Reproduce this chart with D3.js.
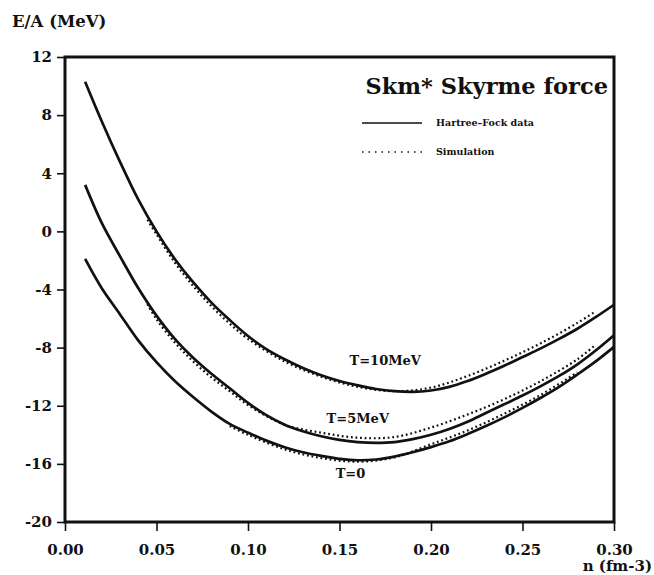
<!DOCTYPE html>
<html>
<head>
<meta charset="utf-8">
<script src="https://cdn.jsdelivr.net/npm/d3@7"></script>
<style>
  body { margin: 0; background: #fff; }
  svg text { font-family: "DejaVu Serif", serif; font-weight: bold; fill: #111; }
</style>
</head>
<body>
<div id="chart"></div>
<script>
// density grid (fm-3) of the Hartree-Fock curves
const densities = [0.011, 0.02, 0.03, 0.04, 0.05, 0.06, 0.07, 0.08, 0.09, 0.10,
  0.11, 0.12, 0.13, 0.14, 0.15, 0.16, 0.17, 0.18, 0.19, 0.20,
  0.21, 0.22, 0.23, 0.24, 0.25, 0.26, 0.27, 0.28, 0.29, 0.30]

// E/A (MeV), Hartree-Fock data
const hfT10 = [10.3, 7.6, 4.8, 2.2, 0.0, -1.9, -3.5, -4.9, -6.1, -7.2,
  -8.1, -8.8, -9.4, -9.9, -10.3, -10.6, -10.85, -11.0, -11.05, -10.95,
  -10.7, -10.3, -9.8, -9.25, -8.65, -8.05, -7.4, -6.7, -5.9, -5.05]
const hfT5 = [3.2, 0.6, -1.7, -3.9, -5.8, -7.4, -8.7, -9.8, -10.8, -11.8,
  -12.65, -13.3, -13.75, -14.1, -14.35, -14.5, -14.55, -14.5, -14.3, -14.0,
  -13.6, -13.1, -12.5, -11.9, -11.3, -10.65, -9.95, -9.15, -8.2, -7.15]
const hfT0 = [-1.9, -3.9, -5.7, -7.5, -9.0, -10.3, -11.4, -12.4, -13.25, -13.85,
  -14.4, -14.85, -15.2, -15.45, -15.65, -15.75, -15.7, -15.5, -15.2, -14.85,
  -14.45, -13.95, -13.4, -12.8, -12.15, -11.45, -10.7, -9.85, -8.95, -7.95]

// simulation points
const simDensities = [0.045, 0.05, 0.06, 0.07, 0.08, 0.09, 0.10, 0.12, 0.14,
  0.16, 0.18, 0.20, 0.22, 0.24, 0.26, 0.28, 0.29]
const simT10 = [0.8, -0.2, -2.15, -3.75, -5.15, -6.35, -7.4, -8.95, -10.0,
  -10.7, -11.0, -10.75, -9.95, -8.9, -7.7, -6.3, -5.5]
const simT5 = [-5.0, -6.05, -7.65, -8.95, -10.05, -11.0, -11.95, -13.3, -13.85,
  -14.2, -14.15, -13.5, -12.6, -11.55, -10.3, -8.8, -7.8]
const simDensitiesT0 = [0.09, 0.10, 0.12, 0.14, 0.16, 0.18, 0.20, 0.22, 0.24, 0.26, 0.28]
const simT0 = [-13.4, -14.0, -15.0, -15.6, -15.85, -15.55, -14.65, -13.7, -12.55, -11.25, -9.7]

const curveLabels = ['T=10MeV', 'T=5MeV', 'T=0']
const xTicks = [0, 0.05, 0.10, 0.15, 0.20, 0.25, 0.30]
const xTickLabels = ['0.00', '0.05', '0.10', '0.15', '0.20', '0.25', '0.30']
const yTicks = [12, 8, 4, 0, -4, -8, -12, -16, -20]

const totalWidth = 654
const totalHeight = 575
const marginLeft = 65
const marginTop = 57
const width = 549
const height = 465
const ink = '#111'

const svg = d3.select('#chart')
  .append('svg')
    .attr('width', totalWidth)
    .attr('height', totalHeight)

const chart = svg.append('g')
  .attr('transform', 'translate(' + marginLeft + ',' + marginTop + ')')

const x = d3.scaleLinear().domain([0, 0.30]).range([0, width])
const y = d3.scaleLinear().domain([-20, 12]).range([height, 0])

// axes
const xAxis = chart.append('g')
  .attr('transform', `translate(0,${height})`)
  .call(d3.axisBottom(x)
    .tickValues(xTicks)
    .tickSize(9)
    .tickPadding(13)
    .tickFormat((d, i) => xTickLabels[i]))

const yAxis = chart.append('g')
  .call(d3.axisLeft(y)
    .tickValues(yTicks)
    .tickSize(8)
    .tickPadding(5)
    .tickFormat(d => String(d)))

for (const axis of [xAxis, yAxis]) {
  axis.select('.domain').remove()
  axis.selectAll('.tick line').attr('stroke', ink).attr('stroke-width', 1.6)
  axis.selectAll('.tick text')
    .style('font-size', '15px')
    .style('font-family', '"DejaVu Serif", serif')
    .style('font-weight', 'bold')
    .attr('fill', ink)
}

// frame
chart.append('rect')
  .attr('x', 0).attr('y', 0)
  .attr('width', width).attr('height', height)
  .attr('fill', 'none')
  .attr('stroke', ink)
  .attr('stroke-width', 3)

// curves
const line = d3.line()
  .x(d => x(d[0]))
  .y(d => y(d[1]))
  .curve(d3.curveCatmullRom.alpha(0.5))

const solid = [hfT10, hfT5, hfT0]
solid.forEach(values => {
  chart.append('path')
    .datum(d3.zip(densities, values))
    .attr('fill', 'none')
    .attr('stroke', ink)
    .attr('stroke-width', 2.7)
    .attr('d', line)
})

const dotted = [[simDensities, simT10], [simDensities, simT5], [simDensitiesT0, simT0]]
dotted.forEach(([ns, values]) => {
  chart.append('path')
    .datum(d3.zip(ns, values))
    .attr('fill', 'none')
    .attr('stroke', ink)
    .attr('stroke-width', 2.2)
    .attr('stroke-dasharray', '1.8 2.8')
    .attr('d', line)
})

// curve labels
const labelPos = [[0.175, -8.85], [0.160, -12.9], [0.156, -16.65]]
curveLabels.forEach((label, i) => {
  chart.append('text')
    .attr('x', x(labelPos[i][0]))
    .attr('y', y(labelPos[i][1]))
    .attr('text-anchor', 'middle')
    .attr('dy', '0.35em')
    .style('font-size', '13px')
    .text(label)
})

// axis titles
svg.append('text')
  .attr('x', 12).attr('y', 27)
  .style('font-size', '16.5px')
  .text('E/A (MeV)')

svg.append('text')
  .attr('x', 652).attr('y', 571)
  .attr('text-anchor', 'end')
  .style('font-size', '15px')
  .text('n (fm-3)')

// title and legend
svg.append('text')
  .attr('x', 608).attr('y', 94)
  .attr('text-anchor', 'end')
  .style('font-size', '22.5px')
  .text('Skm* Skyrme force')

const legend = svg.append('g').attr('transform', 'translate(362,123)')
legend.append('line')
  .attr('x1', 0).attr('x2', 60).attr('y1', 0).attr('y2', 0)
  .attr('stroke', ink).attr('stroke-width', 1.5)
legend.append('text')
  .attr('x', 74).attr('y', 0).attr('dy', '0.35em')
  .style('font-size', '9.5px')
  .text('Hartree\u2013Fock data')
legend.append('line')
  .attr('x1', 0).attr('x2', 62).attr('y1', 29).attr('y2', 29)
  .attr('stroke', ink).attr('stroke-width', 1.5)
  .attr('stroke-dasharray', '1.5 5')
legend.append('text')
  .attr('x', 74).attr('y', 29).attr('dy', '0.35em')
  .style('font-size', '9.5px')
  .text('Simulation')
</script>
</body>
</html>
